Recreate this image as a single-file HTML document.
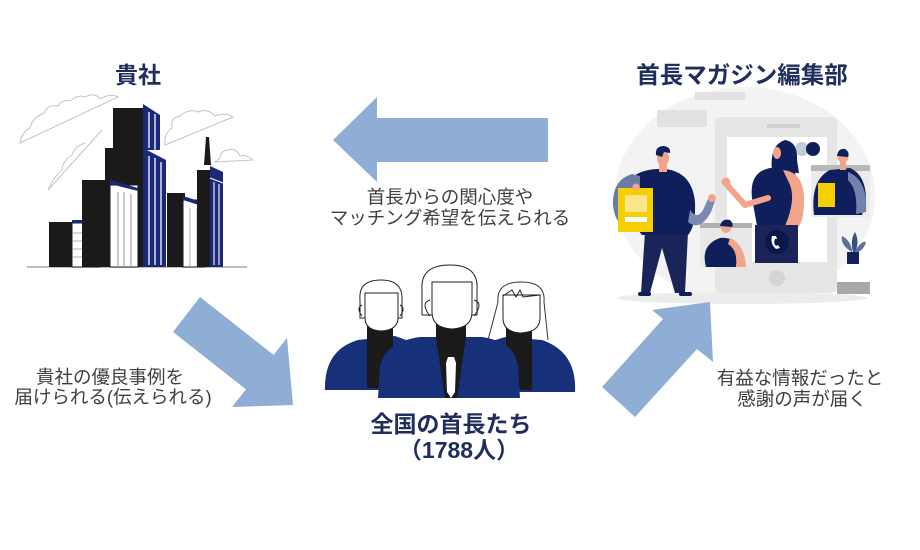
<!DOCTYPE html>
<html><head><meta charset="utf-8">
<style>
html,body{margin:0;padding:0;background:#fff;}
svg{display:block;}
text{font-family:"Liberation Sans","Noto Sans CJK JP",sans-serif;}
.t{font-weight:700;fill:#1f2e5c;}
.c{font-weight:400;fill:#404040;font-size:18.5px;}
</style></head>
<body>
<svg width="920" height="550" viewBox="0 0 920 550" xmlns="http://www.w3.org/2000/svg">
<rect width="920" height="550" fill="#fff"/>

<!-- ===== Left: buildings ===== -->
<g fill="none" stroke="#c4c4c4" stroke-width="1">
  <path d="M20,143 L118,97 Q110,93 100,99 Q95,92 85,97 Q78,94 70,101 Q62,99 58,106 Q48,104 44,113 Q32,118 30,128 Q22,132 20,143 Z"/>
  <path d="M165,145 L233,117 Q225,112 215,116 Q208,108 198,112 Q190,108 180,116 Q170,118 172,128 Q164,133 165,145 Z"/>
  <path d="M48,190 L102,130 M48,190 Q55,175 62,170 Q63,160 72,155 Q75,146 85,143"/>
  <path d="M215,162 L253,160 Q246,154 240,156 Q236,147 228,150 Q220,151 220,158 Z"/>
</g>
<line x1="27" y1="267" x2="247" y2="267" stroke="#999" stroke-width="1.2"/>
<!-- building A -->
<rect x="49" y="222" width="24" height="45" fill="#1a1a1a"/>
<rect x="72" y="223" width="28" height="44" fill="#fff" stroke="#1a1a1a" stroke-width="1"/>
<g stroke="#999" stroke-width="0.8"><line x1="73" y1="233" x2="100" y2="233"/><line x1="73" y1="241" x2="100" y2="241"/><line x1="73" y1="249" x2="100" y2="249"/><line x1="73" y1="257" x2="100" y2="257"/></g>
<rect x="72" y="220" width="28" height="3" fill="#1b2a78"/>
<!-- building B -->
<rect x="82" y="180" width="30" height="87" fill="#1a1a1a"/>
<rect x="110" y="185" width="28" height="82" fill="#fff" stroke="#1a1a1a" stroke-width="1"/>
<polygon points="110,180 138,188 138,191 110,184" fill="#1b2a78"/>
<g stroke="#888" stroke-width="0.9"><line x1="118" y1="190" x2="118" y2="267"/><line x1="124" y1="190" x2="124" y2="267"/><line x1="131" y1="192" x2="131" y2="267"/></g>
<!-- tower -->
<rect x="113" y="108" width="31" height="42" fill="#1a1a1a"/>
<rect x="105" y="148" width="39" height="119" fill="#1a1a1a"/>
<rect x="110" y="185" width="28" height="82" fill="#fff" stroke="#1a1a1a" stroke-width="1"/>
<g stroke="#888" stroke-width="0.9"><line x1="118" y1="192" x2="118" y2="267"/><line x1="124" y1="192" x2="124" y2="267"/><line x1="131" y1="194" x2="131" y2="267"/></g>
<polygon points="110,180 138,188 138,191 110,184" fill="#1b2a78"/>
<polygon points="143,104 160,115 160,150 143,150" fill="#1b2a78"/>
<polygon points="143,148 166,160 166,267 143,267" fill="#1b2a78"/>
<g stroke="#fff" stroke-width="1.3"><line x1="149" y1="112" x2="149" y2="148"/><line x1="155" y1="114" x2="155" y2="150"/><line x1="149" y1="156" x2="149" y2="265"/><line x1="155" y1="158" x2="155" y2="265"/><line x1="161" y1="162" x2="161" y2="265"/></g>
<!-- right buildings -->
<rect x="167" y="193" width="18" height="74" fill="#1a1a1a"/>
<rect x="183" y="200" width="22" height="67" fill="#fff" stroke="#1a1a1a" stroke-width="1"/>
<polygon points="183,196 205,203 205,207 183,200" fill="#1b2a78"/>
<g stroke="#999" stroke-width="0.8"><line x1="190" y1="208" x2="190" y2="267"/><line x1="197" y1="208" x2="197" y2="267"/></g>
<polygon points="206,137 209,137 211,165 204,165" fill="#1a1a1a"/>
<rect x="197" y="170" width="14" height="97" fill="#1a1a1a"/>
<polygon points="210,166 223,172 223,267 210,267" fill="#1b2a78"/>
<g stroke="#fff" stroke-width="1.1"><line x1="214" y1="182" x2="214" y2="265"/><line x1="219" y1="184" x2="219" y2="265"/><line x1="210" y1="178" x2="223" y2="183"/></g>

<text class="t" x="138" y="75" font-size="23" text-anchor="middle" dominant-baseline="central">貴社</text>

<!-- ===== Right: magazine illustration ===== -->
<ellipse cx="745" cy="195" rx="130" ry="108" fill="#f3f3f3"/>
<ellipse cx="742" cy="298" rx="125" ry="6" fill="#ececec"/>
<rect x="695" y="92" width="50" height="8" fill="#e2e2e2"/>
<rect x="657" y="110" width="50" height="17" fill="#e2e2e2"/>
<rect x="715" y="117" width="122" height="176" rx="5" fill="#e6e6e6"/>
<rect x="727" y="137" width="100" height="125" fill="#fff"/>
<rect x="767" y="124" width="33" height="4" fill="#cfcfcf"/>
<circle cx="777" cy="278" r="8" fill="#d4d4d4"/>
<rect x="837" y="282" width="33" height="12" fill="#a8a8a8"/>
<!-- plant -->
<path d="M852,252 Q840,245 842,236 Q850,240 852,250 Z" fill="#5e6f9c"/>
<path d="M853,252 Q850,240 855,232 Q860,242 855,252 Z" fill="#3d4d85"/>
<path d="M854,252 Q862,240 866,242 Q864,250 856,253 Z" fill="#5e6f9c"/>
<rect x="847" y="252" width="12" height="12" fill="#13205a"/>
<!-- circles -->
<circle cx="802" cy="149" r="7" fill="#c5cad8"/>
<circle cx="813" cy="149" r="7" fill="#0f1f5c"/>
<!-- right panel -->
<rect x="811" y="165" width="59" height="52" fill="#ebebeb"/>
<rect x="811" y="165" width="59" height="6" fill="#b8b8b8"/>
<path d="M814,215 Q810,180 830,170 L850,168 Q866,175 866,200 L862,215 Z" fill="#0f1f5c"/>
<path d="M848,172 Q868,180 866,212 L856,214 Q858,190 848,180 Z" fill="#7282ac"/>
<rect x="818" y="183" width="17" height="24" fill="#f5cf00"/>
<rect x="840" y="158" width="6" height="12" fill="#f2a58a"/>
<circle cx="843" cy="157" r="5.5" fill="#f2a58a"/>
<path d="M837,156 Q838,148 845,149 Q850,152 848,157 Z" fill="#0f1f5c"/>
<!-- woman -->
<path d="M772,172 Q769,145 785,140 Q798,142 797,160 L799,173 Z" fill="#0f1f5c"/>
<ellipse cx="777" cy="153" rx="4" ry="6" fill="#f2a58a"/>
<path d="M752,198 Q749,172 770,168 L792,168 Q801,178 799,226 L757,226 Z" fill="#0f1f5c"/>
<path d="M783,170 Q804,172 804,200 Q804,226 795,229 L785,226 Q796,200 790,185 Z" fill="#f2a58a"/>
<rect x="755" y="225" width="43" height="38" fill="#1b2459"/>
<polyline points="768,198 745,205 728,186" fill="none" stroke="#f2a58a" stroke-width="6" stroke-linecap="round" stroke-linejoin="round"/>
<circle cx="726" cy="182" r="4.5" fill="#f2a58a"/>
<circle cx="777" cy="242" r="12" fill="#0b1849"/>
<path d="M772,236 Q770,244 776,249 L780,248 L778,245 L776,246 Q773,243 775,239 L777,239 L776,236 Z" fill="#fff"/>
<!-- bottom-left panel -->
<rect x="700" y="223" width="52" height="44" fill="#e8e8e8"/>
<rect x="700" y="223" width="52" height="5" fill="#b0b0b0"/>
<path d="M706,267 Q700,245 720,238 Q735,236 738,252 L736,267 Z" fill="#0f1f5c"/>
<path d="M730,238 Q745,245 746,267 L736,267 Q738,250 728,244 Z" fill="#f2a58a"/>
<circle cx="726" cy="228" r="5" fill="#f2a58a"/>
<path d="M720,226 Q722,218 730,220 Q734,224 732,227 Z" fill="#0f1f5c"/>
<!-- man -->
<path d="M645,232 L641,293 L650,293 L662,248 L675,293 L685,293 L688,232 Z" fill="#1b2459"/>
<rect x="638" y="292" width="13" height="4" rx="2" fill="#0f1f5c"/>
<rect x="679" y="292" width="13" height="4" rx="2" fill="#0f1f5c"/>
<path d="M628,182 Q638,168 665,169 Q692,172 695,202 Q696,226 688,235 L642,235 Q624,215 628,182 Z" fill="#0f1f5c"/>
<path d="M632,174 Q612,180 613,205 Q615,226 630,229 L640,229 L640,176 Z" fill="#6b7ba8"/>
<path d="M688,222 Q700,232 711,212 L715,201 L708,199 L703,210 Q697,220 690,210 Z" fill="#7a89b0"/>
<circle cx="712" cy="198" r="4" fill="#f2a58a"/>
<rect x="618" y="188" width="35" height="44" fill="#f5cf00"/>
<rect x="625" y="195" width="22" height="17" fill="#fbe58a"/>
<rect x="625" y="217" width="22" height="5" fill="#fff"/>
<circle cx="636" cy="187" r="3.5" fill="#f2a58a"/>
<rect x="659" y="160" width="8" height="12" fill="#f2a58a"/>
<ellipse cx="663" cy="158" rx="6" ry="8" fill="#f2a58a"/>
<path d="M656,155 Q655,146 664,146 Q671,147 670,153 L664,152 L662,157 Z" fill="#0f1f5c"/>

<text class="t" x="742" y="75" font-size="23.5" text-anchor="middle" dominant-baseline="central">首長マガジン編集部</text>

<!-- ===== Center people ===== -->
<!-- left person -->
<path d="M325,390 Q324,350 358,340 L395,336 L420,345 L420,390 Z" fill="#17307a"/>
<rect x="367" y="326" width="26" height="62" fill="#1a1a1a"/>
<path d="M360,300 Q358,280 381,280 Q403,280 402,300 L402,318 L360,318 Z" fill="#fff" stroke="#222" stroke-width="1"/>
<path d="M365,293 L398,293 L398,318 Q398,330 381,331 Q365,330 365,318 Z" fill="#fff" stroke="#222" stroke-width="1"/>
<path d="M362,305 Q356,308 362,316 M400,305 Q406,308 400,316" fill="none" stroke="#222" stroke-width="1"/>
<!-- right person -->
<path d="M575,392 Q577,352 542,340 L505,337 L480,345 L480,392 Z" fill="#17307a"/>
<rect x="506" y="328" width="26" height="62" fill="#1a1a1a"/>
<path d="M498,302 Q496,282 521,282 Q546,282 544,302 L548,340 M498,302 L488,340" fill="none" stroke="#333" stroke-width="1"/>
<path d="M503,295 L540,295 L540,318 Q540,332 521,333 Q503,332 503,318 Z" fill="#fff" stroke="#222" stroke-width="1"/>
<path d="M503,296 L512,290 L516,297 L520,290 L523,297 L540,295" fill="none" stroke="#222" stroke-width="1"/>
<!-- center person -->
<path d="M378,398 L380,366 Q385,342 420,337 L482,337 Q515,342 518,366 L520,398 Z" fill="#17307a"/>
<polygon points="436,322 466,322 466,345 457,398 445,398 436,345" fill="#1a1a1a"/>
<path d="M436,338 L445,398 L420,390 L415,345 Z" fill="#17307a"/>
<path d="M466,338 L457,398 L482,390 L487,345 Z" fill="#17307a"/>
<polygon points="448,357 454,357 456,363 455,392 451,398 447,392 446,363" fill="#fff"/>
<path d="M422,290 Q420,265 450,265 Q479,265 477,290 L477,315 L422,315 Z" fill="#fff" stroke="#222" stroke-width="1"/>
<path d="M432,282 L472,282 L472,312 Q472,328 452,329 Q432,328 432,312 Z" fill="#fff" stroke="#222" stroke-width="1"/>
<path d="M430,300 Q420,303 430,316 M474,300 Q484,303 474,316" fill="none" stroke="#222" stroke-width="1"/>

<text class="t" x="451" y="424" font-size="23" text-anchor="middle" dominant-baseline="central">全国の首長たち</text>
<text class="t" x="459" y="450" font-size="23" text-anchor="middle" dominant-baseline="central">（1788人）</text>

<!-- ===== Arrows ===== -->
<polygon points="333,140 377,97 377,118 548,118 548,162 377,162 377,182" fill="#8eaed6"/>
<polygon points="200,297 273.6,354.9 287,338 293,405 232,407 246,389.4 173,332" fill="#8eaed6"/>
<polygon points="602,387 663,319 652,310 710,302 713,362 697,349 635,417" fill="#8eaed6"/>

<!-- ===== Captions ===== -->
<text class="c" x="450" y="197" text-anchor="middle" dominant-baseline="central">首長からの関心度や</text>
<text class="c" x="450" y="218" text-anchor="middle" dominant-baseline="central">マッチング希望を伝えられる</text>
<text class="c" x="110" y="377" text-anchor="middle" dominant-baseline="central">貴社の優良事例を</text>
<text class="c" x="113" y="397" text-anchor="middle" dominant-baseline="central">届けられる(伝えられる)</text>
<text class="c" x="800" y="378" text-anchor="middle" dominant-baseline="central">有益な情報だったと</text>
<text class="c" x="802" y="399" text-anchor="middle" dominant-baseline="central">感謝の声が届く</text>
</svg>
</body></html>
